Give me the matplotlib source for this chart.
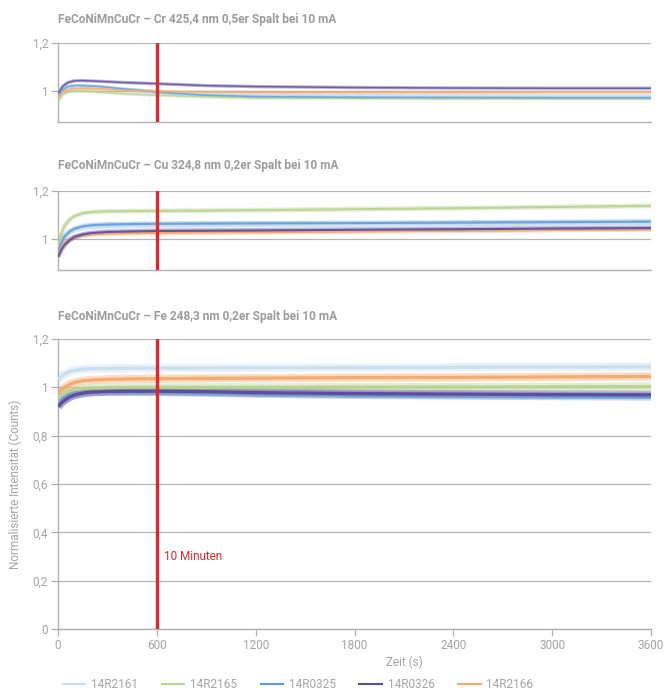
import matplotlib
matplotlib.use("Agg")
import matplotlib.pyplot as plt
from matplotlib.ticker import FuncFormatter
from matplotlib.lines import Line2D

plt.rcParams['font.family'] = ['Roboto', 'DejaVu Sans']

series_names = ["14R2161", "14R2165", "14R0325", "14R0326", "14R2166"]
series_colors = ["#c9def0", "#b9d390", "#5f9fd8", "#5e4a9a", "#f5aa6e"]

titles = [
    "FeCoNiMnCuCr – Cr 425,4 nm 0,5er Spalt bei 10 mA",
    "FeCoNiMnCuCr – Cu 324,8 nm 0,2er Spalt bei 10 mA",
    "FeCoNiMnCuCr – Fe 248,3 nm 0,2er Spalt bei 10 mA",
]

# Cr panel
t_cr = [0, 30, 60, 100, 150, 250, 400, 600, 900, 1200, 1800, 2400, 3000, 3600]
cr_14R2161 = [0.98, 1.005, 1.015, 1.020, 1.020, 1.015, 1.005, 0.995, 0.988, 0.985, 0.984, 0.983, 0.983, 0.983]
cr_14R2165 = [0.96, 0.985, 0.995, 1.000, 1.000, 0.995, 0.988, 0.982, 0.975, 0.971, 0.969, 0.968, 0.968, 0.968]
cr_14R0325 = [0.98, 1.005, 1.018, 1.022, 1.022, 1.018, 1.008, 0.995, 0.982, 0.976, 0.973, 0.972, 0.971, 0.971]
cr_14R0326 = [0.99, 1.020, 1.035, 1.042, 1.043, 1.040, 1.035, 1.030, 1.022, 1.018, 1.014, 1.012, 1.011, 1.011]
cr_14R2166 = [0.97, 0.995, 1.005, 1.010, 1.010, 1.008, 1.003, 0.998, 0.995, 0.994, 0.994, 0.994, 0.995, 0.995]

# Cu panel
t_cu = [0, 20, 40, 70, 100, 150, 200, 300, 450, 600, 900, 1200, 1800, 2400, 3000, 3600]
cu_14R2161 = [0.96, 0.990, 1.010, 1.025, 1.035, 1.043, 1.047, 1.050, 1.052, 1.053, 1.054, 1.055, 1.056, 1.058, 1.060, 1.062]
cu_14R2165 = [0.97, 1.020, 1.055, 1.080, 1.095, 1.107, 1.112, 1.115, 1.116, 1.117, 1.118, 1.120, 1.124, 1.128, 1.133, 1.138]
cu_14R0325 = [0.95, 0.985, 1.010, 1.030, 1.042, 1.052, 1.057, 1.060, 1.062, 1.063, 1.064, 1.065, 1.066, 1.068, 1.070, 1.072]
cu_14R0326 = [0.925, 0.955, 0.975, 0.995, 1.008, 1.018, 1.024, 1.029, 1.031, 1.033, 1.034, 1.035, 1.038, 1.040, 1.043, 1.045]
cu_14R2166 = [0.94, 0.965, 0.982, 0.998, 1.008, 1.015, 1.019, 1.022, 1.024, 1.025, 1.027, 1.028, 1.031, 1.034, 1.037, 1.040]

# Fe panel
t_fe = [0, 20, 40, 70, 100, 150, 200, 300, 450, 600, 900, 1200, 1800, 2400, 3000, 3600]
fe_14R2161 = [1.03, 1.045, 1.055, 1.065, 1.070, 1.075, 1.077, 1.078, 1.079, 1.080, 1.080, 1.081, 1.082, 1.083, 1.084, 1.085]
fe_14R2165 = [0.96, 0.970, 0.978, 0.986, 0.991, 0.995, 0.997, 0.999, 1.000, 1.000, 1.000, 1.000, 1.001, 1.001, 1.002, 1.003]
fe_14R0325 = [0.925, 0.940, 0.950, 0.962, 0.970, 0.977, 0.980, 0.982, 0.982, 0.981, 0.978, 0.974, 0.969, 0.966, 0.964, 0.962]
fe_14R0326 = [0.92, 0.935, 0.947, 0.960, 0.968, 0.976, 0.980, 0.983, 0.984, 0.984, 0.982, 0.978, 0.974, 0.972, 0.970, 0.969]
fe_14R2166 = [0.975, 0.990, 1.000, 1.012, 1.020, 1.027, 1.030, 1.033, 1.035, 1.036, 1.037, 1.038, 1.040, 1.041, 1.043, 1.045]

marker_time = 600
marker_label = "10 Minuten"
x_ticks = [0, 600, 1200, 1800, 2400, 3000, 3600]
y_ticks_small = [1.0, 1.2]
y_ticks_large = [0, 0.2, 0.4, 0.6, 0.8, 1.0, 1.2]

panels = [
    (t_cr, [cr_14R2161, cr_14R2165, cr_14R0325, cr_14R0326, cr_14R2166]),
    (t_cu, [cu_14R2161, cu_14R2165, cu_14R0325, cu_14R0326, cu_14R2166]),
    (t_fe, [fe_14R2161, fe_14R2165, fe_14R0325, fe_14R0326, fe_14R2166]),
]

W, H = 666, 696
fig = plt.figure(figsize=(W / 100, H / 100), dpi=100)

def rect(top, bottom, left=58, right=651):
    return [left / W, 1 - bottom / H, (right - left) / W, (bottom - top) / H]

axes = [
    fig.add_axes(rect(43, 122)),
    fig.add_axes(rect(191, 270)),
    fig.add_axes(rect(339, 629)),
]
title_y = [20, 166, 316]

tick_grey = "#a4a4a4"
red = "#e3262a"
fmt = FuncFormatter(lambda v, p: ("%g" % round(v, 2)).replace(".", ","))

band_w = [2.5, 3.5, 6.0]
core_w = [1.1, 1.5, 2.4]
core_alpha = [0.8, 0.9, 0.95]
order = [0, 1, 2, 4, 3]

for i, (ax, (t, ys)) in enumerate(zip(axes, panels)):
    for k in order:
        ax.plot(t, ys[k], color=series_colors[k], lw=band_w[i], alpha=0.4,
                solid_capstyle='butt', zorder=2)
        ax.plot(t, ys[k], color=series_colors[k], lw=core_w[i], alpha=core_alpha[i],
                solid_capstyle='butt', zorder=3)
    ax.axvline(marker_time, color=red, lw=2.4, zorder=5)
    ax.set_xlim(0, 3600)
    if i < 2:
        ax.set_ylim(0.87, 1.2)
        ax.set_yticks(y_ticks_small)
        ax.set_xticks([])
    else:
        ax.set_ylim(0, 1.2)
        ax.set_yticks(y_ticks_large)
        ax.set_xticks(x_ticks)
        ax.xaxis.set_major_formatter(FuncFormatter(lambda v, p: "%d" % v))
    ax.yaxis.set_major_formatter(fmt)
    ax.grid(axis='y', color="#b4b4b4", lw=0.9, zorder=1)
    ax.set_axisbelow(True)
    for s in ['top', 'right']:
        ax.spines[s].set_visible(False)
    for s in ['left', 'bottom']:
        ax.spines[s].set_color("#b0b0b0")
        ax.spines[s].set_linewidth(1.0)
    ax.tick_params(axis='both', colors="#b0b0b0", labelcolor=tick_grey,
                   labelsize=8.5, length=5, width=0.9, pad=2)
    fig.text(58 / W, 1 - title_y[i] / H, titles[i], fontsize=8.6,
             fontweight='bold', color="#9c9c9c", ha='left', va='center')

ax3 = axes[2]
ax3.set_ylabel("Normalisierte Intensität (Counts)", color=tick_grey,
               fontsize=8.5, labelpad=8)
ax3.text(marker_time + 45, 0.3, marker_label, color=red, fontsize=8.5,
         ha='left', va='center')
fig.text(404 / W, 1 - 662 / H, "Zeit (s)", color=tick_grey, fontsize=8.5,
         ha='center', va='center')

handles = [Line2D([0], [0], color=c, lw=1.5) for c in series_colors]
leg = fig.legend(handles, series_names, loc='center left',
                 bbox_to_anchor=(52 / W, 1 - 685 / H), ncol=5, frameon=False,
                 fontsize=8.5, handlelength=1.9, handletextpad=0.5,
                 columnspacing=2.0, labelcolor=tick_grey)

fig.savefig("out.png", dpi=100)
